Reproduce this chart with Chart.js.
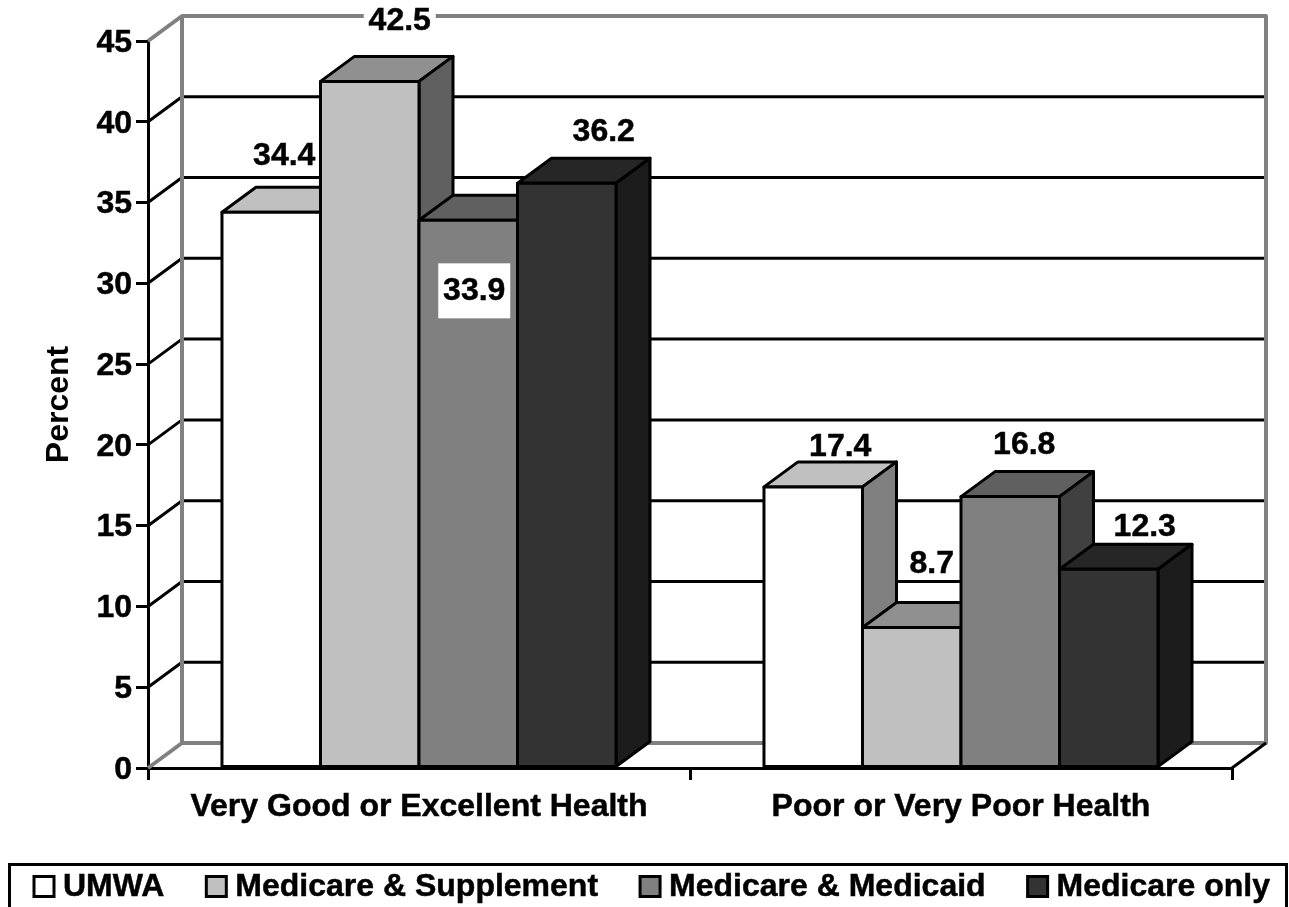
<!DOCTYPE html>
<html>
<head>
<meta charset="utf-8">
<title>Health status by coverage</title>
<script src="https://cdn.jsdelivr.net/npm/chart.js@4"></script>
<style>
    body { margin: 0; background: #fff; }
    canvas { display: block; }
</style>
</head>
<body>
<canvas id="health_chart" width="1289" height="907"></canvas>
<script>
const categories = ["Very Good or Excellent Health", "Poor or Very Poor Health"];
const seriesNames = ["UMWA", "Medicare & Supplement", "Medicare & Medicaid", "Medicare only"];
const umwa = [34.4, 17.4];
const medicareSupplement = [42.5, 8.7];
const medicareMedicaid = [33.9, 16.8];
const medicareOnly = [36.2, 12.3];
const yTicks = [0, 5, 10, 15, 20, 25, 30, 35, 40, 45];

// colours per series: front, top, side
const frontColors = ["#ffffff", "#c0c0c0", "#808080", "#333333"];
const topColors = ["#c0c0c0", "#909090", "#606060", "#262626"];
const sideColors = ["#808080", "#606060", "#404040", "#1c1c1c"];

// value label nudges from the top of each bar [dx, dy]
const labelNudge = [
    [[13, -57], [27, -41]],
    [[30, -61], [20, -64]],
    [[6, 70], [14, -52]],
    [[37, -52], [36, -43]]
];
const labelBoxed = [[false, false], [true, false], [true, false], [false, false]];

const FAMILY = '"Liberation Sans", Arial, sans-serif';
const FONT = 'bold 32px ' + FAMILY;
const TEXT_STROKE = 0.5;
const depthX = 34;
const depthY = -25;

function poly(ctx, pts, fill, stroke, lineWidth) {
    ctx.beginPath();
    pts.forEach((p, i) => i ? ctx.lineTo(p[0], p[1]) : ctx.moveTo(p[0], p[1]));
    if (fill) {
        ctx.closePath();
        ctx.fillStyle = fill;
        ctx.fill();
    }
    ctx.strokeStyle = stroke;
    ctx.lineWidth = lineWidth;
    ctx.lineJoin = "round";
    ctx.stroke();
}

function boldText(ctx, text, x, y) {
    ctx.fillStyle = "#000";
    ctx.strokeStyle = "#000";
    ctx.lineWidth = TEXT_STROKE;
    ctx.fillText(text, x, y);
    ctx.strokeText(text, x, y);
}

let yLabelsMoved = false;

const wall3d = {
    id: "wall3d",
    beforeDraw(chart) {
        // tick numbers sit a bit lower than the library centres them
        if (yLabelsMoved) return;
        chart.scales.y.getLabelItems(chart.chartArea).forEach((item) => {
            item.options.translation[1] += 2;
        });
        yLabelsMoved = true;
    },
    beforeDatasetsDraw(chart) {
        const ctx = chart.ctx;
        const y = chart.scales.y;
        const a = chart.chartArea;
        ctx.save();
        // back wall and floor sit behind the bars
        yTicks.forEach((t) => {
            const py = y.getPixelForValue(t);
            if (t === 0 || t === 45) return;
            poly(ctx, [[a.left, py], [a.left + depthX, py + depthY], [a.right + depthX, py + depthY]], null, "#000", 3);
        });
        const gray = "#808080";
        const top = y.getPixelForValue(45);
        const base = y.getPixelForValue(0);
        poly(ctx, [[a.left, top], [a.left + depthX, top + depthY], [a.right + depthX, top + depthY], [a.right + depthX, base + depthY], [a.left + depthX, base + depthY], [a.left, base]], null, gray, 4);
        poly(ctx, [[a.left + depthX, top + depthY], [a.left + depthX, base + depthY]], null, gray, 4);
        poly(ctx, [[a.right, base], [a.right + depthX, base + depthY]], null, "#000", 3);

        // series go left to right so later bars sit in front of earlier ones
        chart.data.datasets.forEach((ds, i) => {
            const meta = chart.getDatasetMeta(i);
            meta.data.forEach((bar) => {
                const l = bar.x - bar.width / 2;
                const r = bar.x + bar.width / 2;
                poly(ctx, [[l, bar.y], [l + depthX, bar.y + depthY], [r + depthX, bar.y + depthY], [r, bar.y]], topColors[i], "#000", 3);
                poly(ctx, [[r, bar.y], [r + depthX, bar.y + depthY], [r + depthX, bar.base + depthY], [r, bar.base]], sideColors[i], "#000", 3);
            });
            meta.controller.draw();
            ctx.strokeStyle = "#000";
            ctx.lineWidth = 3;
            meta.data.forEach((bar) => {
                ctx.strokeRect(bar.x - bar.width / 2, bar.y, bar.width, bar.base - bar.y);
            });
        });
        ctx.restore();
    },
    // already painted above in the right order
    beforeDatasetDraw() {
        return false;
    },
    afterDraw(chart) {
        const ctx = chart.ctx;
        ctx.save();
        ctx.font = FONT;

        // value labels
        ctx.textBaseline = "middle";
        ctx.textAlign = "center";
        chart.data.datasets.forEach((ds, i) => {
            chart.getDatasetMeta(i).data.forEach((bar, j) => {
                const n = labelNudge[i][j];
                const lx = bar.x + n[0];
                const ly = bar.y + n[1];
                if (labelBoxed[i][j]) {
                    ctx.fillStyle = "#fff";
                    ctx.fillRect(lx - 36, ly - 27, 72, 55);
                }
                boldText(ctx, ds.data[j].toFixed(1), lx, ly + 1);
            });
        });

        // legend strip
        ctx.strokeStyle = "#000";
        ctx.lineWidth = 3;
        ctx.strokeRect(9.5, 864.5, 1277, 60);
        ctx.textAlign = "left";
        ctx.textBaseline = "alphabetic";
        let x = 33;
        seriesNames.forEach((name, i) => {
            ctx.fillStyle = frontColors[i];
            ctx.strokeStyle = "#000";
            ctx.lineWidth = 3;
            ctx.fillRect(x + 1, 876.5, 20, 20);
            ctx.strokeRect(x + 1, 876.5, 20, 20);
            boldText(ctx, name, x + 30, 896);
            x += 30 + ctx.measureText(name).width + 41;
        });
        ctx.restore();
    }
};

new Chart(document.getElementById("health_chart"), {
    type: "bar",
    data: {
        labels: categories,
        datasets: [umwa, medicareSupplement, medicareMedicaid, medicareOnly].map((values, i) => ({
            label: seriesNames[i],
            data: values,
            backgroundColor: frontColors[i],
            borderWidth: 0,
            barPercentage: 1,
            categoryPercentage: 0.727
        }))
    },
    options: {
        responsive: false,
        animation: false,
        events: [],
        layout: { padding: { top: 41, right: 57, bottom: 0, left: 0 } },
        plugins: { legend: { display: false }, tooltip: { enabled: false }, title: { display: false } },
        scales: {
            x: {
                afterFit: (scale) => { scale.height = 139; },
                border: { color: "#000", width: 3 },
                grid: { drawOnChartArea: false, drawTicks: true, tickLength: 12, color: "#000", lineWidth: 3 },
                ticks: { color: "#000", font: { family: FAMILY, size: 32, weight: "bold" }, padding: 8, maxRotation: 0, textStrokeColor: "#000", textStrokeWidth: TEXT_STROKE }
            },
            y: {
                min: 0,
                max: 45,
                afterFit: (scale) => { scale.width = 148; },
                border: { color: "#000", width: 3 },
                grid: { drawOnChartArea: false, drawTicks: true, tickLength: 12, color: "#000", lineWidth: 3 },
                ticks: { stepSize: 5, color: "#000", font: { family: FAMILY, size: 32, weight: "bold" }, padding: 4, textStrokeColor: "#000", textStrokeWidth: TEXT_STROKE },
                title: { display: true, text: "Percent", color: "#000", font: { family: FAMILY, size: 32, weight: "bold" }, padding: { top: 40, bottom: 0 } }
            }
        }
    },
    plugins: [wall3d]
});
</script>
</body>
</html>
